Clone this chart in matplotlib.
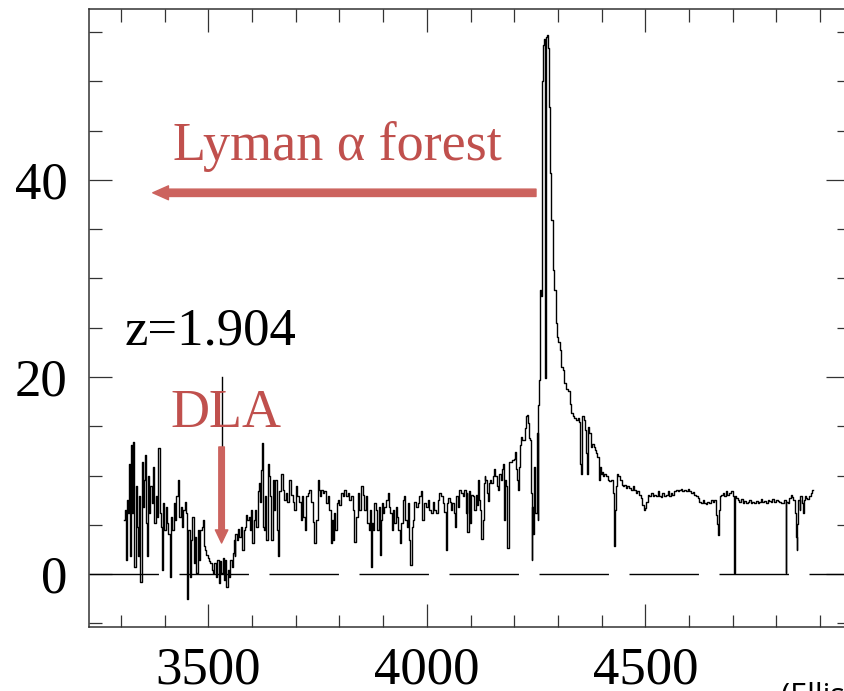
import numpy as np
import matplotlib.pyplot as plt
from matplotlib.ticker import MultipleLocator

plt.rcParams['lines.scale_dashes'] = False

# observed wavelength (Angstrom) and flux, blue end through the DLA trough
dla_wave = [3308, 3309, 3312, 3314, 3317, 3319, 3322, 3325, 3327, 3330, 3332, 3335,
            3337, 3340, 3343, 3346, 3349, 3351, 3354, 3357, 3359, 3361, 3364, 3366,
            3369, 3372, 3375, 3378, 3381, 3384, 3387, 3390, 3392, 3395, 3398, 3401,
            3404, 3407, 3410, 3413, 3416, 3419, 3422, 3425, 3428, 3432, 3435, 3438,
            3441, 3444, 3447, 3450, 3453, 3456, 3459, 3462, 3465, 3468, 3471, 3474,
            3477, 3480, 3483, 3486, 3489, 3491, 3494, 3497, 3500, 3503, 3506, 3509,
            3512, 3515, 3518, 3522, 3525, 3528, 3531, 3534, 3537, 3540, 3543, 3546,
            3549, 3552, 3555, 3558]
dla_flux = [5.5, 6.5, 1.4, 7.5, 6.2, 11.2, 1.8, 13.1, 6.2, 13.4, 0.7, 8.9,
            4.8, 1.8, 7.9, -0.8, 11.4, 6.8, 9.5, 12.1, 5.2, 1.8, 9.9, 6.2,
            8.9, 7.2, 10.9, 5.2, 7.9, 5.8, 12.8, 6.2, 4.8, 0.4, 7.2, 4.5,
            6.8, 5.2, 4.1, -0.3, 5.8, 4.5, 7.2, 5.5, 7.9, 9.5, 5.8, 6.8,
            4.8, 6.5, 7.3, 6.2, -2.5, 4.5, -0.3, 3.5, 5.8, 1.1, 3.8, 0.1,
            4.5, 1.4, 4.5, 4.8, 5.5, 2.8, 2.4, 1.9, 1.6, 1.3, 1.1, 0.4,
            0.1, 1.1, -0.3, 1.4, -0.9, 1.3, 0.1, 1.6, -0.6, 1.4, -1.3, 0.4,
            -0.3, 1.4, 0.7, 2.1]

# Lyman alpha forest, first part
forest1_wave = [3559, 3561, 3563, 3566, 3569, 3573, 3576, 3579, 3582, 3585, 3588, 3591,
                3594, 3597, 3599, 3602, 3605, 3608, 3611, 3614, 3617, 3619, 3621, 3624,
                3626, 3629, 3632, 3634, 3637, 3640, 3643, 3646, 3649, 3652, 3655, 3658,
                3661, 3664, 3668, 3672, 3676, 3679, 3683, 3687, 3691, 3695, 3698, 3702,
                3706, 3710, 3714, 3716, 3719, 3722, 3725, 3729, 3733, 3737, 3740, 3744,
                3748, 3752, 3754, 3757, 3760, 3763, 3767, 3771, 3775, 3779, 3781, 3783,
                3786, 3789, 3792, 3795, 3798, 3801, 3805, 3809, 3813, 3817, 3820, 3824]
forest1_flux = [3.5, 1.8, 4.1, 3.5, 4.6, 3.8, 4.8, 2.4, 4.5, 4.8, 6.0, 5.5,
                5.8, 4.5, 6.5, 3.1, 5.5, 6.5, 4.8, 8.4, 9.2, 7.3, 10.6, 13.3,
                4.8, 4.5, 7.9, 3.5, 11.2, 9.9, 7.9, 3.5, 9.5, 6.5, 9.5, 4.5,
                1.8, 8.4, 10.2, 8.5, 7.5, 8.2, 7.3, 9.5, 8.0, 7.3, 6.5, 8.9,
                7.9, 7.3, 5.5, 7.9, 5.8, 4.5, 7.9, 8.2, 8.5, 7.3, 5.3, 3.1,
                5.5, 9.5, 8.5, 7.9, 8.5, 8.2, 8.4, 7.2, 7.9, 6.5, 3.1, 5.5,
                3.5, 6.2, 4.5, 7.2, 7.5, 7.0, 8.2, 7.9, 8.5, 7.9, 8.2, 7.5]

# Lyman alpha forest, second part
forest2_wave = [3828, 3832, 3836, 3840, 3843, 3847, 3851, 3855, 3859, 3862, 3865, 3868,
                3871, 3874, 3876, 3878, 3882, 3885, 3888, 3891, 3893, 3895, 3898, 3901,
                3904, 3908, 3912, 3915, 3918, 3921, 3924, 3927, 3930, 3933, 3936, 3940,
                3943, 3946, 3949, 3952, 3955, 3958, 3961, 3964, 3967, 3970, 3973, 3977,
                3981, 3985, 3988, 3992, 3996, 4000, 4004, 4007, 4011, 4015, 4019, 4023,
                4026, 4030, 4034, 4038, 4042, 4046, 4048, 4051, 4054, 4057, 4060, 4063,
                4066, 4069, 4072, 4076, 4080, 4084]
forest2_flux = [7.9, 6.5, 3.3, 5.8, 8.2, 6.5, 8.9, 8.0, 6.5, 7.9, 5.2, 4.5,
                6.5, 0.7, 5.2, 4.5, 7.2, 6.5, 4.5, 6.8, 1.9, 5.5, 7.2, 6.2,
                6.8, 7.5, 8.2, 6.8, 6.2, 4.5, 6.5, 5.2, 6.8, 5.8, 4.5, 3.1,
                5.2, 7.5, 7.9, 5.5, 4.8, 7.2, 3.5, 0.9, 4.8, 5.5, 7.3, 6.8,
                7.2, 7.9, 8.4, 5.5, 7.2, 6.8, 7.5, 6.5, 6.2, 7.3, 6.5, 6.2,
                7.5, 8.2, 7.9, 7.2, 6.3, 2.4, 7.2, 7.7, 7.3, 6.5, 7.2, 6.2,
                4.8, 7.9, 6.8, 8.5, 8.2, 7.9]

# blue wing of the emission line
wing_wave = [4087, 4090, 4092, 4094, 4097, 4099, 4101, 4103, 4106, 4110, 4113, 4116,
             4118, 4120, 4123, 4126, 4129, 4131, 4133, 4135, 4139, 4141, 4143, 4146,
             4149, 4152, 4155, 4158, 4161, 4164, 4168, 4171, 4174, 4175, 4177, 4180,
             4183, 4186, 4188, 4190, 4193, 4197, 4200, 4202, 4204, 4207, 4210, 4213,
             4215, 4217, 4219, 4222, 4225, 4228, 4230, 4232, 4235, 4237, 4239, 4241,
             4242, 4244, 4247, 4250, 4253, 4254, 4256, 4258]
wing_flux = [8.5, 6.2, 8.2, 4.3, 8.4, 5.2, 7.5, 8.0, 7.9, 6.5, 8.0, 7.0,
             9.5, 7.5, 6.5, 3.6, 5.5, 9.2, 9.9, 9.5, 8.2, 7.4, 9.2, 9.5,
             9.2, 9.9, 10.7, 9.9, 8.9, 8.5, 10.2, 9.5, 10.7, 11.2, 5.5, 9.5,
             8.9, 2.6, 5.8, 11.4, 11.4, 11.6, 11.7, 12.4, 10.7, 9.5, 8.5, 10.9,
             13.1, 13.9, 13.6, 13.6, 14.8, 16.0, 16.1, 15.3, 13.8, 13.6, 8.2, 1.4,
             6.8, 4.1, 10.9, 6.2, 14.3, 5.5, 17.2, 19.7]

# Lyman alpha emission peak and red wing
peak_wave = [4259, 4261, 4263, 4265, 4267, 4269, 4271, 4272, 4273, 4274, 4276, 4278,
             4280, 4283, 4286, 4290, 4293, 4296, 4299, 4303, 4306, 4309, 4312, 4315,
             4320, 4325, 4328, 4332, 4335, 4339, 4343, 4347, 4350, 4353, 4354, 4357,
             4360, 4363, 4366, 4368, 4370, 4373, 4377, 4380, 4383, 4386, 4389, 4392,
             4395]
peak_flux = [27.8, 28.8, 28.2, 50.0, 53.7, 54.3, 38.6, 19.9, 40.0, 54.5, 54.7, 53.4,
             47.4, 40.7, 35.9, 30.9, 28.8, 25.5, 24.1, 23.6, 22.7, 21.0, 20.7, 19.4,
             18.8, 18.6, 17.3, 16.3, 16.0, 15.8, 15.6, 15.8, 15.4, 11.2, 10.2, 16.0,
             15.6, 14.6, 12.3, 10.2, 14.9, 14.3, 12.9, 13.2, 12.9, 12.6, 12.3, 11.9,
             9.5]

# continuum redward of the emission line
red_wave = [4396, 4399, 4402, 4405, 4408, 4412, 4415, 4419, 4423, 4427, 4429, 4431,
            4434, 4437, 4440, 4444, 4447, 4450, 4453, 4457, 4461, 4465, 4469, 4473,
            4476, 4480, 4484, 4488, 4492, 4495, 4498, 4500, 4503, 4507, 4511, 4515,
            4518, 4522, 4526, 4530, 4534, 4537, 4541, 4545, 4549, 4553, 4556, 4560,
            4564, 4568, 4572, 4576, 4579, 4583, 4587, 4591, 4595, 4598, 4602, 4606,
            4610, 4614, 4618, 4621, 4625, 4629, 4633, 4637, 4640, 4644, 4648, 4652,
            4656, 4659, 4663, 4666, 4668, 4670, 4672, 4676, 4679, 4682, 4686, 4690,
            4694, 4698, 4701, 4704, 4706, 4709, 4713, 4717, 4721, 4724, 4728, 4732,
            4736, 4740, 4743, 4747, 4751, 4755, 4759, 4762, 4766, 4770, 4774, 4778,
            4782, 4785, 4789, 4793, 4797, 4801, 4804, 4808, 4812, 4816, 4820, 4822,
            4824, 4827, 4831, 4835, 4837, 4840, 4843, 4845, 4847, 4849, 4852, 4854,
            4856, 4859, 4862, 4864, 4866, 4869, 4873, 4877, 4881, 4883]
red_flux = [10.9, 10.2, 10.4, 10.0, 10.2, 10.0, 9.5, 9.4, 9.5, 8.2, 2.8, 6.5,
            8.9, 10.2, 9.9, 9.5, 9.0, 8.9, 9.0, 8.7, 8.9, 8.7, 8.5, 8.9,
            8.5, 8.2, 8.4, 8.0, 7.7, 7.0, 6.5, 6.7, 7.3, 8.0, 7.9, 8.2,
            7.9, 8.0, 7.9, 8.4, 7.9, 7.8, 8.2, 7.9, 8.0, 8.4, 7.9, 8.2,
            8.0, 8.4, 8.5, 8.4, 8.5, 8.6, 8.4, 8.5, 8.4, 8.6, 8.4, 8.2,
            8.3, 8.0, 7.9, 7.7, 7.3, 7.2, 7.5, 7.2, 7.1, 7.3, 7.2, 7.5,
            7.3, 7.5, 6.0, 5.1, 4.0, 6.5, 7.9, 8.0, 8.2, 7.9, 8.4, 8.0,
            8.2, 8.4, 7.9, 0.1, 7.9, 7.7, 7.5, 7.3, 7.6, 7.2, 7.4, 7.2,
            7.3, 7.5, 7.2, 7.3, 7.2, 7.4, 7.2, 7.3, 7.6, 7.3, 7.4, 7.2,
            7.5, 7.4, 7.3, 7.6, 7.3, 7.5, 7.4, 7.3, 7.2, 7.2, 7.5, 0.1,
            7.3, 7.2, 7.7, 8.0, 7.8, 7.5, 6.2, 3.8, 2.4, 5.1, 7.5, 6.5,
            7.9, 7.2, 6.2, 7.5, 7.9, 7.7, 7.6, 7.9, 8.2, 8.5]

wave = np.concatenate([dla_wave, forest1_wave, forest2_wave, wing_wave, peak_wave, red_wave])
flux = np.concatenate([dla_flux, forest1_flux, forest2_flux, wing_flux, peak_flux, red_flux])

# damped absorber redshift -> position of its Lyman alpha line
lya_rest = 1215.67
dla_z = 1.904
dla_line = lya_rest * (1 + dla_z)

red = '#c0504d'
arrow_red = '#cc635e'
serif = 'Liberation Serif'

fig = plt.figure(figsize=(8.45, 6.91), dpi=100)
ax = fig.add_axes([0.1059, 0.0926, 0.8988, 0.8944])

ax.plot(wave, flux, color='black', lw=1.0, drawstyle='steps-mid')
ax.axhline(0, color='black', lw=1.0, dashes=(50, 14.8))

ax.set_xlim(3228, 4966)
ax.set_ylim(-5.38, 57.36)
ax.xaxis.set_major_locator(MultipleLocator(500))
ax.xaxis.set_minor_locator(MultipleLocator(100))
ax.yaxis.set_major_locator(MultipleLocator(20))
ax.yaxis.set_minor_locator(MultipleLocator(5))

ax.tick_params(which='both', direction='in', top=True, right=True,
               color='#333333', width=0.9, labelsize=38, labelfontfamily=serif)
ax.tick_params(which='major', length=16.5)
ax.tick_params(axis='y', which='major', pad=16)
ax.tick_params(axis='x', which='major', pad=14)
ax.tick_params(which='minor', length=9)
for s in ax.spines.values():
    s.set_color('#333333')
    s.set_linewidth(1.1)

# annotations
ax.text(3418.5, 42.0, 'Lyman \u03b1 forest', color=red, fontsize=39,
        family=serif, va='baseline')
ax.annotate('', xy=(3372.8, 38.7), xytext=(4249.8, 38.7),
            arrowprops=dict(arrowstyle='simple,head_length=11.3,head_width=10,tail_width=5.3',
                            mutation_scale=1, color=arrow_red, shrinkA=0, shrinkB=0))

ax.text(3309.4, 23.25, 'z=1.904', color='black', fontsize=38, family=serif, va='baseline')
ax.plot([dla_line, dla_line], [20, 12.5], color='black', lw=1.0)
ax.text(3412.4, 14.95, 'DLA', color=red, fontsize=39, family=serif, va='baseline')
ax.annotate('', xy=(dla_line, 3.15), xytext=(dla_line, 12.9),
            arrowprops=dict(arrowstyle='simple,head_length=9.4,head_width=9,tail_width=4',
                            mutation_scale=1, color=arrow_red, shrinkA=0, shrinkB=0))

fig.text(781 / 845, -14 / 691, '(Ellison et al.)', fontsize=22, family='Open Sans',
         va='baseline', ha='left')

fig.savefig('out.png', dpi=100)
